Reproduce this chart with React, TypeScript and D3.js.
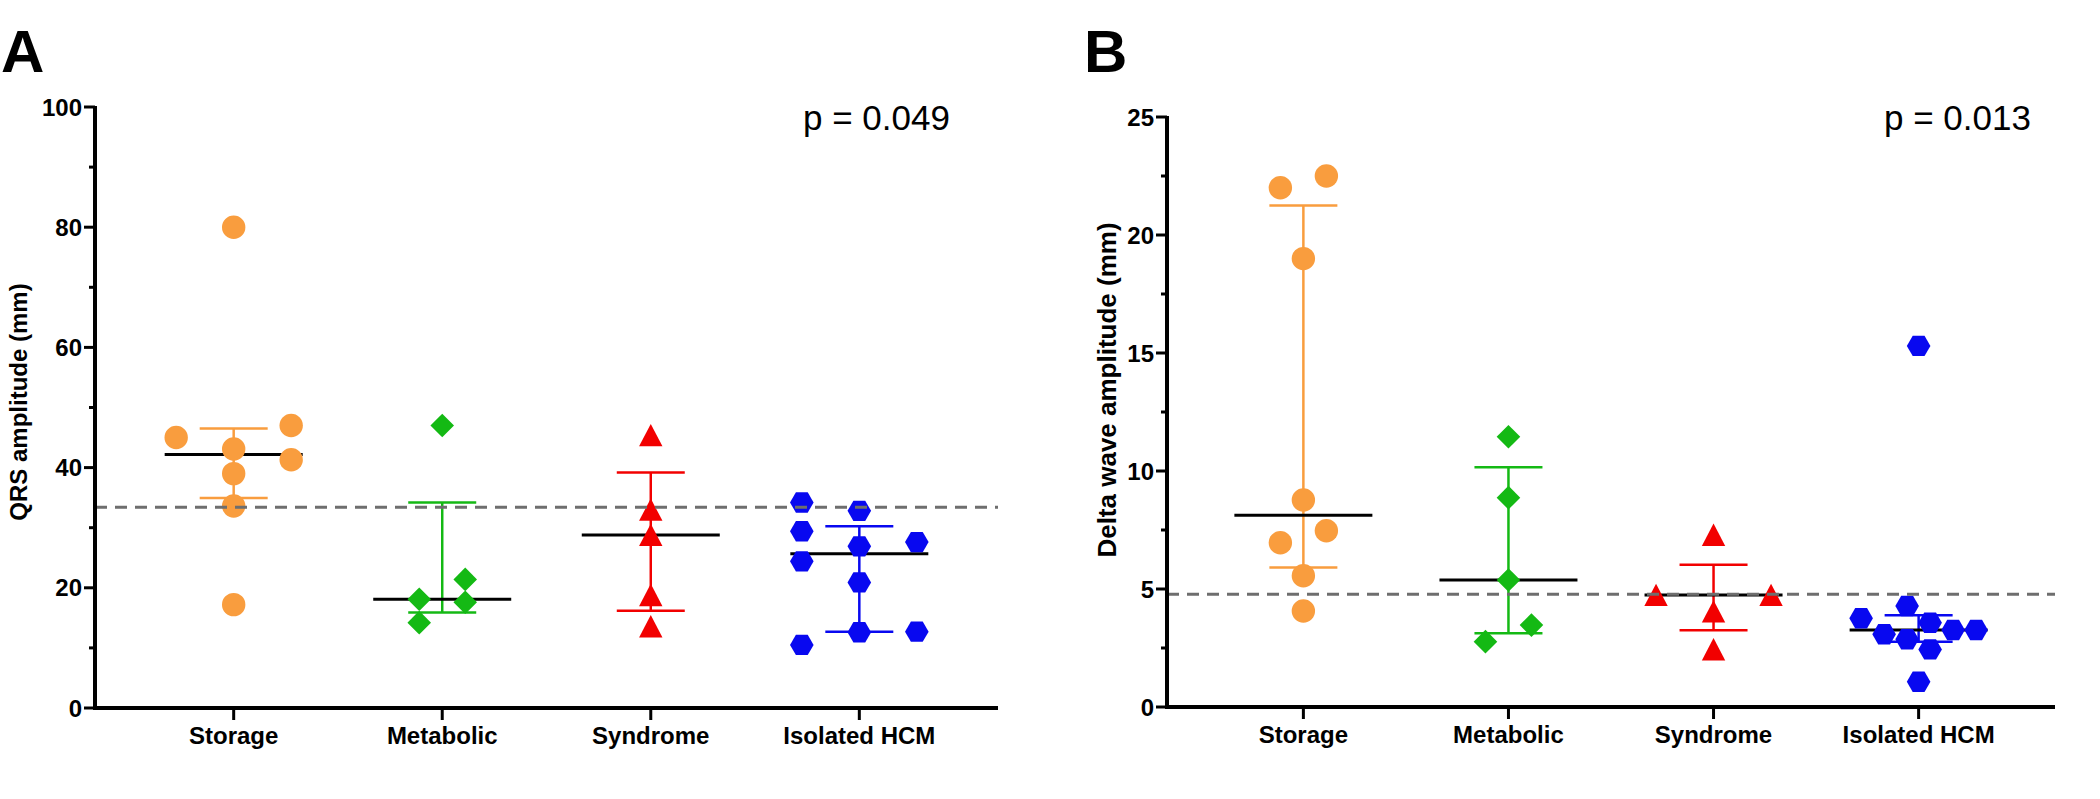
import React from "react";
import * as d3 from "d3";

// ---------- data ----------
const categories = ["Storage", "Metabolic", "Syndrome", "Isolated HCM"];

// Panel A: QRS amplitude (mm)
const qrsStorage = [80, 47, 45, 43.1, 41.3, 39, 33.6, 17.2];
const qrsStorageJitter = [0, 5, -5, 0, 5, 0, 0, 0];
const qrsMetabolic = [47, 21.4, 18.1, 17.6, 14.2];
const qrsMetabolicJitter = [0, 2, -2, 2, -2];
const qrsSyndrome = [45.4, 33.0, 28.8, 18.8, 13.6];
const qrsSyndromeJitter = [0, 0, 0, 0, 0];
const qrsIsolated = [34.2, 32.8, 29.4, 27.6, 26.9, 24.4, 20.9, 12.6, 12.7, 10.5];
const qrsIsolatedJitter = [-5, 0, -5, 5, 0, -5, 0, 0, 5, -5];
const qrsTicks = [0, 20, 40, 60, 80, 100];
const qrsMinorTicks = [10, 30, 50, 70, 90];
const qrsReference = 33.4;
const qrsTitle = "QRS amplitude (mm)";
const qrsP = "p = 0.049";

// Panel B: Delta wave amplitude (mm)
const deltaStorage = [22.5, 22, 19, 8.77, 7.47, 6.96, 5.56, 4.07];
const deltaStorageJitter = [2, -2, 0, 0, 2, -2, 0, 0];
const deltaMetabolic = [11.45, 8.87, 5.38, 3.47, 2.77];
const deltaMetabolicJitter = [0, 0, 0, 2, -2];
const deltaSyndrome = [7.3, 4.75, 4.75, 4.05, 2.45];
const deltaSyndromeJitter = [0, -5, 5, 0, 0];
const deltaIsolated = [15.3, 4.28, 3.76, 3.57, 3.26, 3.26, 3.08, 2.87, 2.44, 1.07];
const deltaIsolatedJitter = [0, -1, -5, 1, 3, 5, -3, -1, 1, 0];
const deltaTicks = [0, 5, 10, 15, 20, 25];
const deltaMinorTicks = [2.5, 7.5, 12.5, 17.5, 22.5];
const deltaReference = 4.78;
const deltaTitle = "Delta wave amplitude (mm)";
const deltaP = "p = 0.013";

// ---------- styles ----------
const FONT = "'Liberation Sans', Arial, Helvetica, sans-serif";
const groupColors = ["#F99D3E", "#14B914", "#F20000", "#0808F0"];
const groupShapes = ["circle", "diamond", "triangle", "hexagon"];
const JITTER_UNIT = 11.5;

function shapePath(shape: string, cx: number, cy: number): string {
  const p = d3.path();
  if (shape === "circle") {
    const r = 11.7;
    p.moveTo(cx + r, cy);
    p.arc(cx, cy, r, 0, Math.PI * 2);
    p.closePath();
  } else if (shape === "diamond") {
    const r = 11.8;
    p.moveTo(cx, cy - r);
    p.lineTo(cx + r, cy);
    p.lineTo(cx, cy + r);
    p.lineTo(cx - r, cy);
    p.closePath();
  } else if (shape === "triangle") {
    const w = 11.7;
    const h = 11.2;
    p.moveTo(cx, cy - h);
    p.lineTo(cx + w, cy + h);
    p.lineTo(cx - w, cy + h);
    p.closePath();
  } else {
    const r = 11.8;
    const h = 10.2;
    p.moveTo(cx - r, cy);
    p.lineTo(cx - r / 2, cy - h);
    p.lineTo(cx + r / 2, cy - h);
    p.lineTo(cx + r, cy);
    p.lineTo(cx + r / 2, cy + h);
    p.lineTo(cx - r / 2, cy + h);
    p.closePath();
  }
  return p.toString();
}

// GraphPad-style quantile: position (n+1)p
function gpQuantile(values: number[], q: number): number {
  const s = [...values].sort((a, b) => a - b);
  const n = s.length;
  const pos = (n + 1) * q;
  if (pos <= 1) return s[0];
  if (pos >= n) return s[n - 1];
  const lo = Math.floor(pos);
  const f = pos - lo;
  return s[lo - 1] + f * (s[lo] - s[lo - 1]);
}

type PanelProps = {
  letter: string;
  letterX: number;
  left: number;
  right: number;
  top: number;
  bottom: number;
  yMax: number;
  ticks: number[];
  minorTicks: number[];
  groups: number[][];
  jitters: number[][];
  reference: number;
  title: string;
  titleSize: number;
  titleX: number;
  titleY: number;
  pText: string;
  pX: number;
};

function Panel(props: PanelProps) {
  const {
    letter, letterX, left, right, top, bottom, yMax, ticks, minorTicks,
    groups, jitters, reference, title, titleSize, titleX, titleY, pText, pX,
  } = props;
  const x = d3.scalePoint<string>().domain(categories).range([left, right]).padding(0.665);
  const y = d3.scaleLinear().domain([0, yMax]).range([bottom, top]);

  return (
    <g>
      <text x={letterX} y={72} fontFamily={FONT} fontWeight="bold" fontSize={60} fill="#000">
        {letter}
      </text>
      <text x={pX} y={130} fontFamily={FONT} fontSize={35} fill="#000">
        {pText}
      </text>
      <text
        transform={`translate(${titleX},${titleY}) rotate(-90)`}
        textAnchor="middle"
        fontFamily={FONT}
        fontWeight="bold"
        fontSize={titleSize}
        fill="#000"
      >
        {title}
      </text>

      {/* summary: error bars + medians */}
      {groups.map((vals, i) => {
        const cx = x(categories[i]) as number;
        const med = gpQuantile(vals, 0.5);
        const q1 = gpQuantile(vals, 0.25);
        const q3 = gpQuantile(vals, 0.75);
        const c = groupColors[i];
        return (
          <g key={"s" + i}>
            <line x1={cx} x2={cx} y1={y(q1)} y2={y(q3)} stroke={c} strokeWidth={2.5} />
            <line x1={cx - 34} x2={cx + 34} y1={y(q1)} y2={y(q1)} stroke={c} strokeWidth={2.5} />
            <line x1={cx - 34} x2={cx + 34} y1={y(q3)} y2={y(q3)} stroke={c} strokeWidth={2.5} />
            <line x1={cx - 69} x2={cx + 69} y1={y(med)} y2={y(med)} stroke="#000" strokeWidth={3} />
          </g>
        );
      })}

      {/* points */}
      {groups.map((vals, i) => {
        const cx = x(categories[i]) as number;
        return (
          <g key={"p" + i} fill={groupColors[i]}>
            {vals.map((v, j) => (
              <path key={j} d={shapePath(groupShapes[i], cx + jitters[i][j] * JITTER_UNIT, y(v))} />
            ))}
          </g>
        );
      })}

      {/* reference dashed line */}
      <line
        x1={left}
        x2={right}
        y1={y(reference)}
        y2={y(reference)}
        stroke="#6E6E6E"
        strokeWidth={3}
        strokeDasharray="12 8"
      />

      {/* y axis */}
      <line x1={left} x2={left} y1={y(yMax) - 1} y2={bottom + 2} stroke="#000" strokeWidth={4} />
      {ticks.map((t) => (
        <g key={"t" + t}>
          <line x1={left - 11} x2={left} y1={y(t)} y2={y(t)} stroke="#000" strokeWidth={3} />
          <text
            x={left - 13}
            y={y(t)}
            dy="0.36em"
            textAnchor="end"
            fontFamily={FONT}
            fontWeight="bold"
            fontSize={24}
            fill="#000"
          >
            {t}
          </text>
        </g>
      ))}
      {minorTicks.map((t) => (
        <line key={"m" + t} x1={left - 6} x2={left} y1={y(t)} y2={y(t)} stroke="#000" strokeWidth={3} />
      ))}

      {/* x axis */}
      <line x1={left - 2} x2={right} y1={bottom} y2={bottom} stroke="#000" strokeWidth={4} />
      {categories.map((c) => {
        const cx = x(c) as number;
        return (
          <g key={"x" + c}>
            <line x1={cx} x2={cx} y1={bottom} y2={bottom + 12} stroke="#000" strokeWidth={3} />
            <text
              x={cx}
              y={bottom + 36}
              textAnchor="middle"
              fontFamily={FONT}
              fontWeight="bold"
              fontSize={24}
              fill="#000"
            >
              {c}
            </text>
          </g>
        );
      })}
    </g>
  );
}

export default function App() {
  return (
    <svg
      width={2100}
      height={799}
      viewBox="0 0 2100 799"
      style={{ position: "absolute", left: 0, top: 0, background: "#fff" }}
    >
      <rect x={0} y={0} width={2100} height={799} fill="#fff" />
      <Panel
        letter="A"
        letterX={1}
        left={95}
        right={998}
        top={107}
        bottom={708}
        yMax={100}
        ticks={qrsTicks}
        minorTicks={qrsMinorTicks}
        groups={[qrsStorage, qrsMetabolic, qrsSyndrome, qrsIsolated]}
        jitters={[qrsStorageJitter, qrsMetabolicJitter, qrsSyndromeJitter, qrsIsolatedJitter]}
        reference={qrsReference}
        title={qrsTitle}
        titleSize={24}
        titleX={27}
        titleY={402}
        pText={qrsP}
        pX={803}
      />
      <Panel
        letter="B"
        letterX={1084}
        left={1167}
        right={2055}
        top={117}
        bottom={707}
        yMax={25}
        ticks={deltaTicks}
        minorTicks={deltaMinorTicks}
        groups={[deltaStorage, deltaMetabolic, deltaSyndrome, deltaIsolated]}
        jitters={[deltaStorageJitter, deltaMetabolicJitter, deltaSyndromeJitter, deltaIsolatedJitter]}
        reference={deltaReference}
        title={deltaTitle}
        titleSize={26}
        titleX={1116}
        titleY={390}
        pText={deltaP}
        pX={1884}
      />
    </svg>
  );
}
